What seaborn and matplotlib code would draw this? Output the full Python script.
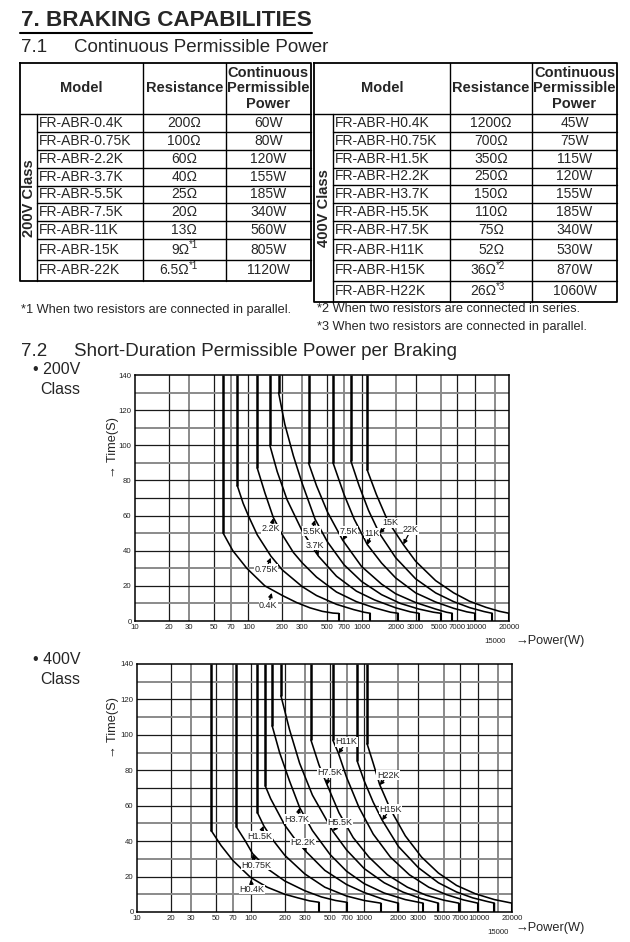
import matplotlib
matplotlib.use("Agg")
import matplotlib.pyplot as plt
from matplotlib.transforms import ScaledTranslation
import seaborn as sns
import pandas as pd
import logging

logging.getLogger("matplotlib.font_manager").setLevel(logging.ERROR)

sns.set_style("white")
plt.rcParams["font.family"] = ["Liberation Sans", "DejaVu Sans"]

# ---- 7.1 table data ----
models_200 = ["FR-ABR-0.4K", "FR-ABR-0.75K", "FR-ABR-2.2K", "FR-ABR-3.7K", "FR-ABR-5.5K",
              "FR-ABR-7.5K", "FR-ABR-11K", "FR-ABR-15K", "FR-ABR-22K"]
resist_200 = ["200Ω", "100Ω", "60Ω", "40Ω", "25Ω", "20Ω", "13Ω", "9Ω", "6.5Ω"]
notes_200 = ["", "", "", "", "", "", "", "*1", "*1"]
power_200 = [60, 80, 120, 155, 185, 340, 560, 805, 1120]

models_400 = ["FR-ABR-H0.4K", "FR-ABR-H0.75K", "FR-ABR-H1.5K", "FR-ABR-H2.2K", "FR-ABR-H3.7K",
              "FR-ABR-H5.5K", "FR-ABR-H7.5K", "FR-ABR-H11K", "FR-ABR-H15K", "FR-ABR-H22K"]
resist_400 = ["1200Ω", "700Ω", "350Ω", "250Ω", "150Ω", "110Ω", "75Ω", "52Ω", "36Ω", "26Ω"]
notes_400 = ["", "", "", "", "", "", "", "", "*2", "*3"]
power_400 = [45, 75, 115, 120, 155, 185, 340, 530, 870, 1060]

# ---- 7.2 curves, 200V class: power (W) / time (s) from the knee down to the end ----
p_04k = [60, 73, 97, 140, 200, 267, 350, 450, 560, 630, 630]
t_04k = [50, 40, 30, 20, 14.5, 10.5, 7.5, 5.5, 4.5, 4.3, 0]
p_075k = [80, 90, 100, 120, 158, 200, 300, 400, 600, 850, 1050, 1190, 1190]
t_075k = [77, 67, 60, 49, 37, 29, 19.5, 14.5, 9.5, 6.5, 5, 4.4, 0]
p_22k = [120, 140, 166, 200, 250, 300, 400, 600, 900, 1300, 1800, 2100, 2100]
t_22k = [87, 73, 59, 49, 39, 33, 25, 16.5, 11, 7.5, 5, 4.4, 0]
p_37k = [155, 180, 220, 300, 415, 600, 900, 1300, 2000, 2700, 3200, 3200]
t_37k = [100, 85, 69, 51, 37, 25.5, 17, 12, 7.5, 5.2, 4.4, 0]
p_55k = [185, 210, 250, 300, 388, 500, 700, 1000, 1500, 2200, 3200, 4300, 5000, 5000]
t_55k = [130, 112, 94, 78, 58, 45, 32, 22.5, 15, 10, 6.8, 5, 4.4, 0]
p_75k = [340, 400, 500, 681, 1000, 1500, 2000, 3000, 4500, 5600, 6300, 6300]
t_75k = [90, 77, 62, 46, 31, 21, 15.5, 10.5, 6.8, 5, 4.4, 0]
p_11k = [560, 700, 860, 1122, 1500, 2000, 3000, 4500, 6500, 8500, 10000, 10000]
t_11k = [90, 72, 58, 43.5, 33, 24.5, 16, 10.8, 7.2, 5.2, 4.4, 0]
p_15k = [805, 950, 1150, 1432, 2000, 3000, 4500, 6500, 9000, 12000, 14200, 14200]
t_15k = [91, 77, 63, 50, 36, 24, 16, 11, 7.6, 5.4, 4.4, 0]
p_22kw = [1120, 1350, 1700, 2335, 3000, 4500, 6500, 9000, 12500, 16500, 20000, 20000]
t_22kw = [86, 72, 57, 43.5, 34, 23, 16, 11.2, 7.8, 5.5, 4.4, 0]

# ---- 400V class ----
p_h04k = [45, 55, 70, 100, 140, 200, 260, 330, 400, 400]
t_h04k = [46, 37.5, 29, 19.5, 14, 10, 8, 6.3, 5.5, 0]
p_h075k = [75, 90, 104, 140, 200, 300, 420, 560, 700, 700]
t_h075k = [48, 40, 33, 24.5, 17.5, 12, 8.5, 6.5, 5.5, 0]
p_h15k = [115, 131, 160, 200, 300, 450, 700, 1000, 1400, 1400]
t_h15k = [56, 48.5, 40, 32, 21.5, 14, 9, 6.5, 5, 0]
p_h22k = [135, 150, 200, 250, 309, 450, 700, 1000, 1500, 2000, 2000]
t_h22k = [71, 64, 49, 40.5, 34, 23.5, 15.5, 11, 7, 5, 0]
p_h37k = [155, 180, 220, 270, 350, 500, 700, 1000, 1500, 2300, 3300, 3300]
t_h37k = [105, 90, 74, 59, 46, 32.5, 23, 16, 10.7, 7, 5, 0]
p_h55k = [185, 220, 270, 350, 531, 700, 1000, 1500, 2200, 3200, 4500, 4500]
t_h55k = [122, 103, 84, 66, 45.5, 35, 24.5, 16.5, 11.2, 7.5, 5, 0]
p_h75k = [340, 400, 470, 600, 800, 1100, 1600, 2400, 3500, 5000, 6800, 6800]
t_h75k = [97, 83, 72, 56, 42, 31, 21, 14, 9.5, 6.7, 5, 0]
p_h11k = [530, 594, 700, 900, 1200, 1700, 2500, 3700, 5300, 7500, 10000, 10000]
t_h11k = [97, 89.5, 76, 59, 44, 31, 21, 14, 9.8, 6.8, 5, 0]
p_h15kw = [870, 1000, 1200, 1435, 2000, 3000, 4500, 6500, 9000, 12000, 14000, 14000]
t_h15kw = [85, 74, 62, 52, 37, 25, 16.5, 11.3, 8, 6, 5, 0]
p_h22kw = [1060, 1200, 1367, 1700, 2300, 3200, 4500, 6500, 9500, 14000, 20000, 20000]
t_h22kw = [95, 84, 72, 58, 43, 31, 22, 15, 10.3, 7, 5, 0]

curves_200 = [(p_04k, t_04k), (p_075k, t_075k), (p_22k, t_22k), (p_37k, t_37k), (p_55k, t_55k),
              (p_75k, t_75k), (p_11k, t_11k), (p_15k, t_15k), (p_22kw, t_22kw)]
curves_400 = [(p_h04k, t_h04k), (p_h075k, t_h075k), (p_h15k, t_h15k), (p_h22k, t_h22k),
              (p_h37k, t_h37k), (p_h55k, t_h55k), (p_h75k, t_h75k), (p_h11k, t_h11k),
              (p_h15kw, t_h15kw), (p_h22kw, t_h22kw)]

labels_200 = ["0.4K", "0.75K", "2.2K", "3.7K", "5.5K", "7.5K", "11K", "15K", "22K"]
labels_400 = ["H0.4K", "H0.75K", "H1.5K", "H2.2K", "H3.7K", "H5.5K", "H7.5K", "H11K", "H15K", "H22K"]

x_ticks = [10, 20, 30, 50, 70, 100, 200, 300, 500, 700, 1000, 2000, 3000, 5000, 7000, 10000, 15000, 20000]
y_ticks = [0, 20, 40, 60, 80, 100, 120, 140]

# label text position / arrow tip (data coords)
lab_pos_200 = [(150, 9), (143, 29.5), (159, 52.5), (388, 43), (363, 51), (764, 51), (1228, 50), (1782, 56), (2729, 52)]
lab_tip_200 = [(161, 16), (158, 36), (166, 58.5), (415, 37), (388, 57.5), (681, 46), (1122, 43.3), (1432, 50), (2335, 43.6)]
lab_pos_400 = [(103, 12.7), (112, 26.4), (120, 42.8), (289, 39.2), (256, 52.4), (608, 50.3), (495, 78.6), (695, 96), (1700, 58), (1622, 77.3)]
lab_tip_400 = [(100.6, 18.3), (104, 32.6), (130, 48.6), (309, 33.9), (270, 58.8), (531, 45.6), (470, 71.6), (594, 89.5), (1435, 51.8), (1367, 71.6)]

W, H = 630, 942
fig = plt.figure(figsize=(W / 100, H / 100), dpi=100)
bg = fig.add_axes([0, 0, 1, 1])
bg.set_xlim(0, W)
bg.set_ylim(H, 0)
bg.axis("off")

# headings
bg.text(21, 21, "7. BRAKING CAPABILITIES", fontsize=16.2, fontweight="bold", va="center")
bg.plot([20, 312], [33, 33], color="black", lw=1.5)
bg.text(21, 47, "7.1", fontsize=13.5, va="center")
bg.text(74, 47, "Continuous Permissible Power", fontsize=13.5, va="center")


def draw_table(x0, xg, xr, xp, x1, edges, models, resist, notes, power, group):
    top = 62.5
    hb, bottom = edges[0], edges[-1]
    bg.plot([x0, x1, x1, x0, x0], [top, top, bottom, bottom, top], color="black", lw=1.3)
    for x in (xr, xp):
        bg.plot([x, x], [top, bottom], color="black", lw=1)
    bg.plot([xg, xg], [hb, bottom], color="black", lw=1)
    bg.plot([x0, x1], [hb, hb], color="black", lw=1)
    for y in edges[1:-1]:
        bg.plot([xg, x1], [y, y], color="black", lw=1)
    hy = (top + hb) / 2
    bg.text((x0 + xr) / 2, hy, "Model", fontsize=10.5, fontweight="bold", ha="center", va="center")
    bg.text((xr + xp) / 2, hy, "Resistance", fontsize=10.5, fontweight="bold", ha="center", va="center")
    bg.text((xp + x1) / 2, hy, "Continuous\nPermissible\nPower", fontsize=10.5, fontweight="bold",
            ha="center", va="center", linespacing=1.12)
    bg.text((x0 + xg) / 2 + 0.5, (hb + bottom) / 2, group, fontsize=10.5, fontweight="bold",
            rotation=90, ha="center", va="center")
    cr, cp = (xr + xp) / 2, (xp + x1) / 2
    for i in range(len(models)):
        yc = (edges[i] + edges[i + 1]) / 2
        bg.text(xg + 2.5, yc, models[i], fontsize=10, va="center")
        if notes[i]:
            bg.text(cr + 5, yc, resist[i], fontsize=10, ha="right", va="center")
            bg.text(cr + 5, yc - 4.5, notes[i], fontsize=7, ha="left", va="center")
        else:
            bg.text(cr, yc, resist[i], fontsize=10, ha="center", va="center")
        bg.text(cp, yc, f"{power[i]}W", fontsize=10, ha="center", va="center")


draw_table(19.5, 36.7, 142.7, 225.7, 310.7,
           [114.3, 132.3, 150, 168.3, 185.7, 203.3, 221, 239.3, 260, 281],
           models_200, resist_200, notes_200, power_200, "200V Class")
draw_table(314, 332.7, 450, 532.3, 616.7,
           [114.3, 132.3, 150, 167.7, 185, 203.3, 221, 239.3, 260, 280.7, 301.7],
           models_400, resist_400, notes_400, power_400, "400V Class")

bg.text(21, 310.5, "*1 When two resistors are connected in parallel.", fontsize=9.2, va="center")
bg.text(317, 309.5, "*2 When two resistors are connected in series.", fontsize=9.2, va="center")
bg.text(317, 327, "*3 When two resistors are connected in parallel.", fontsize=9.2, va="center")

bg.text(21, 352, "7.2", fontsize=13.5, va="center")
bg.text(74, 352, "Short-Duration Permissible Power per Braking", fontsize=13.5, va="center")

gray_x = {30, 70, 300, 700, 2000, 5000, 15000}
gray_y = {10, 30, 50, 90, 110, 130}
# small sideways nudges (px) so the crowded tick labels do not run into each other
label_nudge = {5000: -1.6, 7000: 0.3, 10000: 1.6}


def draw_chart(rect, curves, labels, lab_pos, lab_tip, ylab_y, xlab_y, cls_y, cls):
    left, top, right, bottom = rect
    ax = fig.add_axes([left / W, 1 - bottom / H, (right - left) / W, (bottom - top) / H])
    ax.set_xscale("log")
    ax.set_xlim(10, 20000)
    ax.set_ylim(0, 140)
    for v in x_ticks[1:-1]:
        g = v in gray_x
        ax.axvline(v, color="#8a8a8a" if g else "#1a1a1a", lw=1.4 if g else 0.9, zorder=0.5)
    for v in range(10, 140, 10):
        g = v in gray_y
        ax.axhline(v, color="#8a8a8a" if g else "#1a1a1a", lw=1.4 if g else 0.9, zorder=0.5)

    rows = []
    for name, (p, t) in zip(labels, curves):
        for pi, ti in zip(p, t):
            rows.append({"model": name, "power": pi, "time": ti})
    df = pd.DataFrame(rows)
    sns.lineplot(data=df, x="power", y="time", units="model", estimator=None, sort=False,
                 color="black", linewidth=1.15, ax=ax, zorder=3)
    # continuous-power verticals above the knee, and the drop at the end
    knee_p = [c[0][0] for c in curves]
    knee_t = [c[1][0] for c in curves]
    ax.vlines(knee_p, knee_t, 140, color="black", lw=1.8, zorder=3)
    end_p = [c[0][-1] for c in curves]
    end_t = [c[1][-2] for c in curves]
    ax.vlines(end_p, 0, end_t, color="black", lw=1.5, zorder=3)

    for lab, pos, tip in zip(labels, lab_pos, lab_tip):
        ax.annotate(lab, xy=tip, xytext=pos, fontsize=6.5, color="#222222", ha="center", va="center",
                    bbox=dict(boxstyle="square,pad=0.05", fc="white", ec="none"),
                    arrowprops=dict(arrowstyle="-|>", color="black", lw=0.9, mutation_scale=6,
                                    shrinkA=0, shrinkB=0), zorder=4)

    ax.set_xticks(x_ticks)
    ax.set_xticklabels(["" if v == 15000 else str(v) for v in x_ticks])
    ax.minorticks_off()
    ax.set_yticks(y_ticks)
    ax.tick_params(length=0, labelsize=5.6, labelcolor="#222222", pad=2.5)
    for v, tl in zip(x_ticks, ax.get_xticklabels()):
        if v in label_nudge:
            tl.set_transform(tl.get_transform() +
                             ScaledTranslation(label_nudge[v] / 100, 0, fig.dpi_scale_trans))
    # the 15000 label sits on a second row under the axis
    ax.annotate("15000", xy=(15000, 0), xycoords=("data", "axes fraction"), xytext=(0, -15),
                textcoords="offset points", ha="center", va="center", fontsize=5.6, color="#222222")
    ax.set_xlabel("")
    ax.set_ylabel("")
    for s in ax.spines.values():
        s.set_color("black")
        s.set_linewidth(1.1)

    bg.text(113, ylab_y, "→ Time(S)", fontsize=9.2, rotation=90, ha="center", va="center")
    bg.text(515, xlab_y, "→Power(W)", fontsize=9.2, va="center")
    bg.text(33, cls_y, "• " + cls, fontsize=11.5, va="center")
    bg.text(40, cls_y + 20, "Class", fontsize=11.5, va="center")
    return ax


draw_chart((135, 375, 509, 621), curves_200, labels_200, lab_pos_200, lab_tip_200,
           448, 641, 369, "200V")
draw_chart((137, 664, 512, 912), curves_400, labels_400, lab_pos_400, lab_tip_400,
           727, 928, 660, "400V")

fig.savefig("out.png", dpi=100)
